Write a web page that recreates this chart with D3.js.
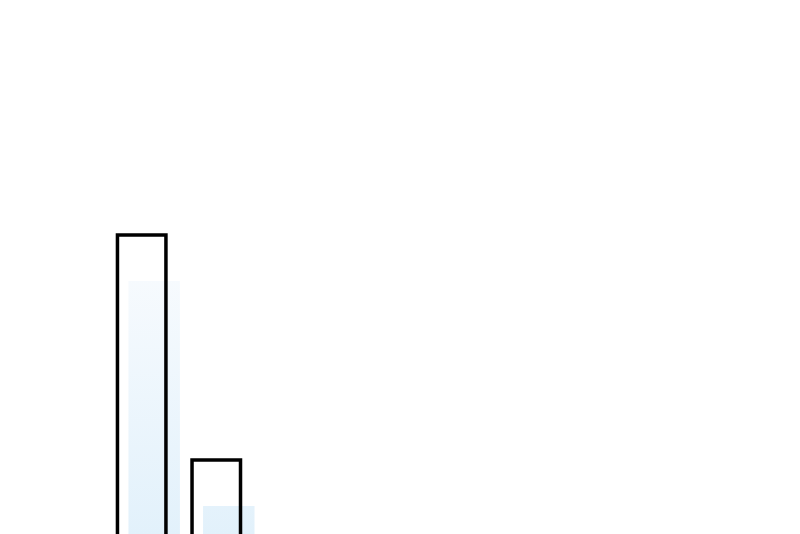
<!DOCTYPE html>
<html>
<head>
<meta charset="utf-8">
<script src="https://cdn.jsdelivr.net/npm/d3@7"></script>
<style>
  body { margin: 0; background: #fff; }
  svg { display: block; }
</style>
</head>
<body>
<svg id="chart" width="800" height="534"></svg>
<script>
(function () {
    // bar values (baseline sits below the visible area)
    var categories = ["A", "B", "C", "D", "E", "F", "G", "H", "I"];
    var values = [65, 20, 0, 0, 0, 0, 0, 0, 0];

    var data = categories.map((name, i) => ({name, value: values[i]}));

    var width = 800, height = 534;
    var svg = d3.select("#chart");

    var x = d3.scaleBand()
        .domain(categories)
        .range([110, 770])
        .paddingInner(0.35)
        .paddingOuter(0.1);

    var y = d3.scaleLinear()
        .domain([0, 100])
        .range([560, 60]);

    // soft blue fill, gradient runs top to bottom of the page
    var grad = svg.append("defs").append("linearGradient")
        .attr("id", "fillGrad")
        .attr("gradientUnits", "userSpaceOnUse")
        .attr("x1", 0).attr("y1", 260)
        .attr("x2", 0).attr("y2", 534);
    grad.append("stop").attr("offset", "0%").attr("stop-color", "#f8fbfe");
    grad.append("stop").attr("offset", "100%").attr("stop-color", "#e2f1fb");

    var shown = data.filter(d => d.value > 0);

    // fill, drawn offset from the outline (sketchy look)
    svg.append("g")
        .selectAll("rect")
        .data(shown)
        .join("rect")
        .attr("x", d => x(d.name) + 11)
        .attr("y", d => y(d.value) + 46)
        .attr("width", x.bandwidth() + 3)
        .attr("height", d => y(0) - y(d.value))
        .attr("fill", "url(#fillGrad)");

    // black outline
    svg.append("g")
        .selectAll("rect")
        .data(shown)
        .join("rect")
        .attr("x", d => x(d.name))
        .attr("y", d => y(d.value))
        .attr("width", x.bandwidth())
        .attr("height", d => y(0) - y(d.value))
        .attr("fill", "none")
        .attr("stroke", "#000")
        .attr("stroke-width", 3.5);
})();
</script>
</body>
</html>
